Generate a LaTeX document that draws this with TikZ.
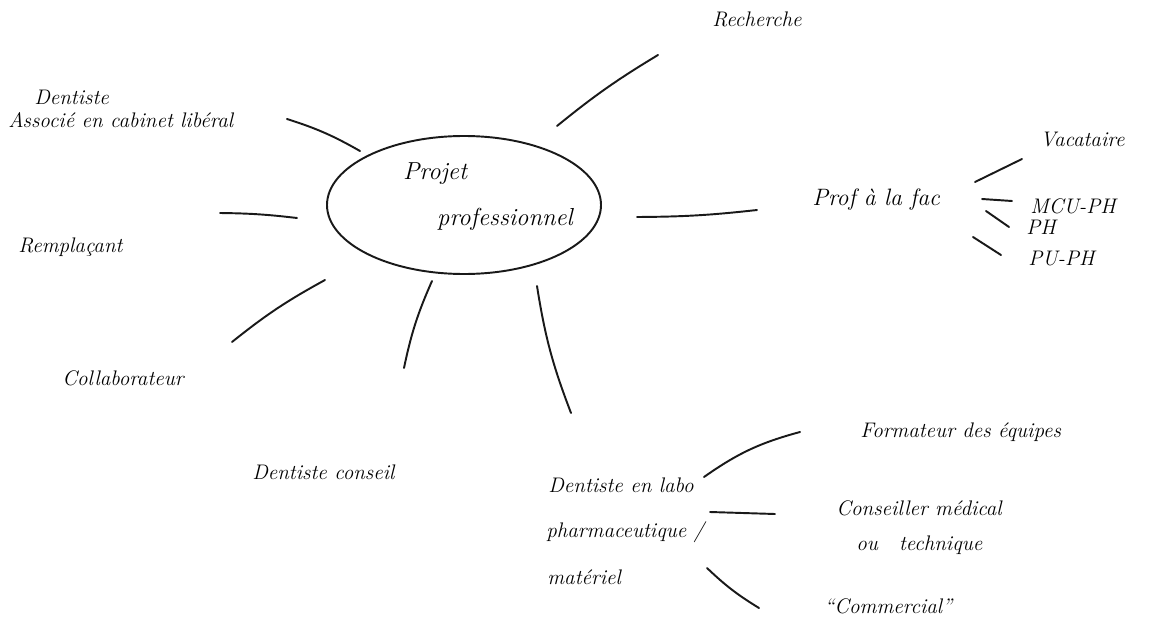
\documentclass[tikz,border=0pt]{standalone}
\usepackage{fontspec}
\setmainfont{Latin Modern Roman}
\begin{document}
\begin{tikzpicture}[x=0.02cm,y=-0.02cm,
  ink/.style={line width=1.1pt,line cap=round,black!90},
  lbl/.style={font=\itshape\fontsize{12}{14}\selectfont,inner sep=0pt,align=center},
  bigl/.style={font=\itshape\fontsize{14}{17}\selectfont,inner sep=0pt}]
\useasboundingbox (0,0) rectangle (1152,625);
% central idea
\draw[ink] (464,205) ellipse [x radius=137,y radius=69];
\node[bigl] (centre1) at (435,174) {Projet};
\node[bigl] (centre2) at (505,219) {professionnel};
% first level labels
\node[lbl] (rech) at (757,19) {Recherche};
\node[lbl,anchor=west] (dent) at (34,97) {Dentiste};
\node[lbl,anchor=west] (assoc) at (8,120) {Associé en cabinet libéral};
\node[lbl,anchor=west] (rempl) at (18,247) {Remplaçant};
\node[lbl,anchor=west] (collab) at (62,378) {Collaborateur};
\node[lbl,anchor=west] (conseil) at (252,472) {Dentiste conseil};
\node[lbl,anchor=west] (labo1) at (548,485) {Dentiste en labo};
\node[lbl,anchor=west] (labo2) at (546,532) {pharmaceutique /};
\node[lbl,anchor=west] (labo3) at (547,577) {matériel};
\node[lbl,font=\itshape\fontsize{13.5}{16}\selectfont,anchor=west] (prof) at (812,200) {Prof à la fac};
% second level labels
\node[lbl,anchor=west] (vac) at (1040,140) {Vacataire};
\node[lbl,anchor=west] (mcu) at (1030,206) {MCU-PH};
\node[lbl,anchor=west] (ph) at (1026,227) {PH};
\node[lbl,anchor=west] (pu) at (1028,259) {PU-PH};
\node[lbl,anchor=west] (form) at (860,432) {Formateur des équipes};
\node[lbl,anchor=west] (cmed1) at (836,508) {Conseiller médical};
\node[lbl,anchor=west] (cmed2) at (856,545) {ou\quad technique};
\node[lbl,anchor=west] (comm) at (824,606) {``Commercial''};
% stroke end points
\coordinate (r1) at (557,126); \coordinate (r2) at (658,55);
\coordinate (a1) at (287,119); \coordinate (a2) at (360,151);
\coordinate (p1) at (220,213); \coordinate (p2) at (297,218);
\coordinate (c1) at (232,342); \coordinate (c2) at (325,280);
\coordinate (d1) at (432,281); \coordinate (d2) at (404,368);
\coordinate (l1) at (537,286); \coordinate (l2) at (571,413);
\coordinate (f1) at (637,217); \coordinate (f2) at (757,210);
\coordinate (v1) at (975,182); \coordinate (v2) at (1022,159);
\coordinate (m1) at (982,199); \coordinate (m2) at (1012,201);
\coordinate (h1) at (986,211); \coordinate (h2) at (1009,227);
\coordinate (u1) at (973,237); \coordinate (u2) at (1001,255);
\coordinate (fo1) at (704,477); \coordinate (fo2) at (800,432);
\coordinate (co1) at (710,512); \coordinate (co2) at (775,514);
\coordinate (cm1) at (707,568); \coordinate (cm2) at (759,608);
% strokes
\draw[ink] (r1) to[bend left=4] (r2);
\draw[ink] (a1) to[bend left=6] (a2);
\draw[ink] (p1) to[bend left=3] (p2);
\draw[ink] (c1) to[bend left=5] (c2);
\draw[ink] (d1) to[bend right=6] (d2);
\draw[ink] (l1) to[bend right=6] (l2);
\draw[ink] (f1) to[bend right=3] (f2);
\draw[ink] (v1) -- (v2);
\draw[ink] (m1) -- (m2);
\draw[ink] (h1) -- (h2);
\draw[ink] (u1) -- (u2);
\draw[ink] (fo1) to[bend left=10] (fo2);
\draw[ink] (co1) -- (co2);
\draw[ink] (cm1) to[bend right=6] (cm2);
\end{tikzpicture}
\end{document}
